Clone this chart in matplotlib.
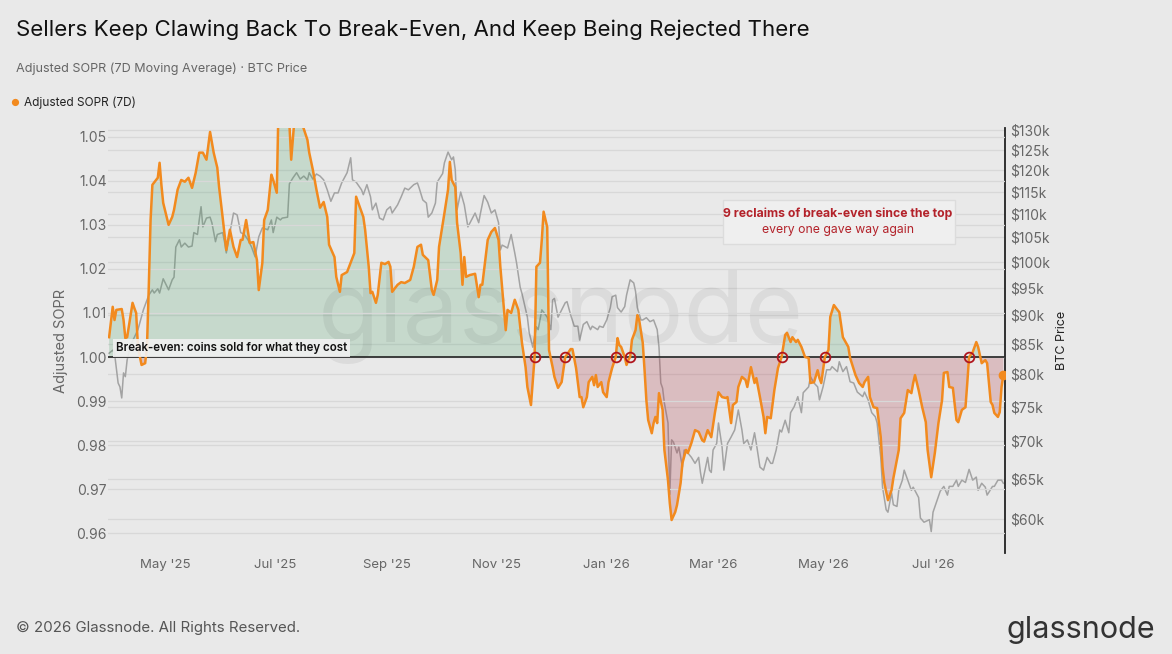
import numpy as np
import pandas as pd
import matplotlib
matplotlib.use("Agg")
import matplotlib.pyplot as plt
import matplotlib.dates as mdates
from matplotlib.ticker import FixedLocator, FuncFormatter, NullLocator
from matplotlib.patches import Rectangle

plt.rcParams['font.family'] = ['Inter', 'DejaVu Sans']

# Adjusted SOPR (7D MA)
sopr_dates = [
    "2025-03-31", "2025-04-02", "2025-04-03", "2025-04-04", "2025-04-07", "2025-04-08", "2025-04-09", "2025-04-10",
    "2025-04-13", "2025-04-14", "2025-04-15", "2025-04-16", "2025-04-18", "2025-04-20", "2025-04-21", "2025-04-22",
    "2025-04-23", "2025-04-24", "2025-04-27", "2025-04-28", "2025-04-29", "2025-04-30", "2025-05-03", "2025-05-05",
    "2025-05-06", "2025-05-08", "2025-05-10", "2025-05-12", "2025-05-14", "2025-05-16", "2025-05-18", "2025-05-20",
    "2025-05-22", "2025-05-24", "2025-05-26", "2025-05-28", "2025-05-30", "2025-05-31", "2025-06-02", "2025-06-04",
    "2025-06-06", "2025-06-08", "2025-06-10", "2025-06-12", "2025-06-13", "2025-06-15", "2025-06-17", "2025-06-19",
    "2025-06-21", "2025-06-22", "2025-06-24", "2025-06-25", "2025-06-27", "2025-06-29", "2025-06-30", "2025-07-02",
    "2025-07-03", "2025-07-05", "2025-07-08", "2025-07-10", "2025-07-12", "2025-07-14", "2025-07-16", "2025-07-19",
    "2025-07-20", "2025-07-22", "2025-07-24", "2025-07-26", "2025-07-28", "2025-07-30", "2025-07-31", "2025-08-03",
    "2025-08-04", "2025-08-06", "2025-08-07", "2025-08-10", "2025-08-13", "2025-08-14", "2025-08-15", "2025-08-17",
    "2025-08-19", "2025-08-20", "2025-08-22", "2025-08-23", "2025-08-24", "2025-08-26", "2025-08-27", "2025-08-29",
    "2025-08-31", "2025-09-02", "2025-09-03", "2025-09-04", "2025-09-07", "2025-09-09", "2025-09-11", "2025-09-14",
    "2025-09-16", "2025-09-18", "2025-09-20", "2025-09-21", "2025-09-24", "2025-09-26", "2025-09-27", "2025-09-29",
    "2025-09-30", "2025-10-03", "2025-10-05", "2025-10-06", "2025-10-07", "2025-10-09", "2025-10-10", "2025-10-12",
    "2025-10-13", "2025-10-14", "2025-10-15", "2025-10-17", "2025-10-20", "2025-10-22", "2025-10-23", "2025-10-24",
    "2025-10-27", "2025-10-29", "2025-10-31", "2025-11-02", "2025-11-03", "2025-11-06", "2025-11-07", "2025-11-09",
    "2025-11-11", "2025-11-13", "2025-11-15", "2025-11-17", "2025-11-18", "2025-11-20", "2025-11-22", "2025-11-23",
    "2025-11-25", "2025-11-26", "2025-11-27", "2025-11-29", "2025-11-30", "2025-12-02", "2025-12-03", "2025-12-05",
    "2025-12-07", "2025-12-09", "2025-12-12", "2025-12-13", "2025-12-15", "2025-12-17", "2025-12-18", "2025-12-19",
    "2025-12-21", "2025-12-22", "2025-12-24", "2025-12-25", "2025-12-26", "2025-12-27", "2025-12-29", "2025-12-30",
    "2026-01-01", "2026-01-02", "2026-01-04", "2026-01-06", "2026-01-07", "2026-01-08", "2026-01-09", "2026-01-11",
    "2026-01-12", "2026-01-13", "2026-01-14", "2026-01-15", "2026-01-17", "2026-01-18", "2026-01-19", "2026-01-21",
    "2026-01-22", "2026-01-23", "2026-01-24", "2026-01-26", "2026-01-27", "2026-01-28", "2026-01-29", "2026-01-30",
    "2026-02-01", "2026-02-02", "2026-02-04", "2026-02-05", "2026-02-06", "2026-02-08", "2026-02-09", "2026-02-11",
    "2026-02-12", "2026-02-14", "2026-02-15", "2026-02-17", "2026-02-19", "2026-02-21", "2026-02-23", "2026-02-24",
    "2026-02-26", "2026-02-28", "2026-03-02", "2026-03-04", "2026-03-06", "2026-03-08", "2026-03-09", "2026-03-11",
    "2026-03-12", "2026-03-14", "2026-03-15", "2026-03-17", "2026-03-19", "2026-03-20", "2026-03-22", "2026-03-24",
    "2026-03-25", "2026-03-27", "2026-03-29", "2026-03-30", "2026-03-31", "2026-04-02", "2026-04-04", "2026-04-06",
    "2026-04-08", "2026-04-10", "2026-04-11", "2026-04-13", "2026-04-14", "2026-04-16", "2026-04-17", "2026-04-19",
    "2026-04-21", "2026-04-23", "2026-04-24", "2026-04-26", "2026-04-28", "2026-04-29", "2026-04-30", "2026-05-02",
    "2026-05-04", "2026-05-05", "2026-05-07", "2026-05-09", "2026-05-10", "2026-05-12", "2026-05-15", "2026-05-16",
    "2026-05-19", "2026-05-21", "2026-05-23", "2026-05-24", "2026-05-26", "2026-05-27", "2026-05-29", "2026-05-31",
    "2026-06-02", "2026-06-03", "2026-06-04", "2026-06-06", "2026-06-08", "2026-06-09", "2026-06-12", "2026-06-13",
    "2026-06-15", "2026-06-17", "2026-06-19", "2026-06-20", "2026-06-21", "2026-06-23", "2026-06-25", "2026-06-27",
    "2026-06-28", "2026-06-30", "2026-07-02", "2026-07-04", "2026-07-06", "2026-07-07", "2026-07-09", "2026-07-10",
    "2026-07-12", "2026-07-14", "2026-07-15", "2026-07-17", "2026-07-19", "2026-07-20", "2026-07-21", "2026-07-23",
    "2026-07-25", "2026-07-26", "2026-07-28", "2026-07-30", "2026-07-31", "2026-08-02", "2026-08-03", "2026-08-04",
    "2026-08-06", "2026-08-07", "2026-08-08", "2026-08-09",
]
sopr = [
    1.0045, 1.0114, 1.0084, 1.0107, 1.0109, 1.0084, 1.0043, 1.0045,
    1.0123, 1.0111, 1.0100, 1.0023, 0.9982, 0.9986, 1.0023, 1.0159,
    1.0311, 1.0391, 1.0407, 1.0441, 1.0391, 1.0350, 1.0300, 1.0318,
    1.0334, 1.0380, 1.0402, 1.0398, 1.0407, 1.0384, 1.0418, 1.0464,
    1.0464, 1.0448, 1.0511, 1.0464, 1.0430, 1.0386, 1.0316, 1.0243,
    1.0289, 1.0250, 1.0227, 1.0266, 1.0266, 1.0311, 1.0259, 1.0261,
    1.0220, 1.0152, 1.0214, 1.0311, 1.0334, 1.0414, 1.0402, 1.0373,
    1.0580, 1.0640, 1.0610, 1.0448, 1.0550, 1.0560, 1.0530, 1.0493,
    1.0464, 1.0425, 1.0380, 1.0339, 1.0352, 1.0318, 1.0255, 1.0227,
    1.0182, 1.0148, 1.0186, 1.0193, 1.0225, 1.0236, 1.0364, 1.0341,
    1.0318, 1.0289, 1.0205, 1.0145, 1.0148, 1.0123, 1.0141, 1.0214,
    1.0211, 1.0216, 1.0205, 1.0148, 1.0164, 1.0170, 1.0168, 1.0175,
    1.0205, 1.0250, 1.0255, 1.0232, 1.0220, 1.0152, 1.0141, 1.0175,
    1.0250, 1.0327, 1.0380, 1.0443, 1.0402, 1.0386, 1.0305, 1.0236,
    1.0164, 1.0227, 1.0182, 1.0186, 1.0189, 1.0136, 1.0164, 1.0164,
    1.0266, 1.0284, 1.0293, 1.0266, 1.0205, 1.0061, 1.0107, 1.0100,
    1.0130, 1.0107, 1.0032, 0.9977, 0.9932, 0.9891, 1.0000, 1.0205,
    1.0214, 1.0266, 1.0330, 1.0295, 1.0016, 0.9977, 0.9955, 0.9930,
    0.9943, 1.0000, 1.0018, 1.0018, 0.9975, 0.9909, 0.9909, 0.9886,
    0.9909, 0.9943, 0.9955, 0.9936, 0.9959, 0.9932, 0.9943, 0.9920,
    0.9909, 0.9943, 0.9975, 1.0000, 1.0043, 1.0027, 1.0023, 1.0000,
    0.9982, 0.9993, 1.0000, 1.0039, 1.0061, 1.0095, 1.0084, 1.0032,
    0.9970, 0.9902, 0.9857, 0.9827, 0.9850, 0.9864, 0.9850, 0.9918,
    0.9880, 0.9789, 0.9720, 0.9668, 0.9630, 0.9648, 0.9664, 0.9714,
    0.9759, 0.9789, 0.9782, 0.9805, 0.9834, 0.9830, 0.9811, 0.9808,
    0.9834, 0.9818, 0.9873, 0.9920, 0.9909, 0.9907, 0.9909, 0.9850,
    0.9891, 0.9898, 0.9932, 0.9955, 0.9948, 0.9932, 0.9977, 0.9941,
    0.9952, 0.9909, 0.9864, 0.9827, 0.9864, 0.9861, 0.9925, 0.9975,
    1.0000, 1.0050, 1.0055, 1.0034, 1.0045, 1.0034, 1.0039, 1.0023,
    1.0000, 0.9998, 0.9941, 0.9943, 0.9970, 0.9952, 0.9941, 1.0000,
    1.0016, 1.0091, 1.0118, 1.0107, 1.0102, 1.0045, 1.0023, 0.9998,
    0.9959, 0.9941, 0.9932, 0.9943, 0.9955, 0.9909, 0.9886, 0.9884,
    0.9818, 0.9750, 0.9714, 0.9675, 0.9698, 0.9725, 0.9789, 0.9861,
    0.9873, 0.9925, 0.9918, 0.9941, 0.9959, 0.9925, 0.9886, 0.9852,
    0.9789, 0.9727, 0.9782, 0.9850, 0.9902, 0.9964, 0.9966, 0.9932,
    0.9930, 0.9857, 0.9852, 0.9880, 0.9886, 0.9941, 1.0000, 1.0011,
    1.0034, 1.0023, 0.9986, 0.9993, 0.9986, 0.9898, 0.9891, 0.9873,
    0.9864, 0.9875, 0.9932, 0.9959,
]

# BTC price in $k
price_dates = [
    "2025-03-31", "2025-04-02", "2025-04-03", "2025-04-05", "2025-04-06", "2025-04-07", "2025-04-08", "2025-04-09",
    "2025-04-10", "2025-04-12", "2025-04-16", "2025-04-19", "2025-04-22", "2025-04-24", "2025-04-25", "2025-04-27",
    "2025-04-28", "2025-04-30", "2025-05-03", "2025-05-05", "2025-05-06", "2025-05-07", "2025-05-09", "2025-05-10",
    "2025-05-12", "2025-05-14", "2025-05-16", "2025-05-17", "2025-05-19", "2025-05-20", "2025-05-21", "2025-05-22",
    "2025-05-24", "2025-05-26", "2025-05-27", "2025-05-29", "2025-05-30", "2025-06-02", "2025-06-03", "2025-06-04",
    "2025-06-06", "2025-06-08", "2025-06-10", "2025-06-12", "2025-06-14", "2025-06-16", "2025-06-18", "2025-06-20",
    "2025-06-22", "2025-06-24", "2025-06-27", "2025-06-29", "2025-06-30", "2025-07-02", "2025-07-04", "2025-07-05",
    "2025-07-08", "2025-07-09", "2025-07-11", "2025-07-13", "2025-07-15", "2025-07-17", "2025-07-19", "2025-07-20",
    "2025-07-22", "2025-07-24", "2025-07-26", "2025-07-28", "2025-07-30", "2025-08-01", "2025-08-03", "2025-08-05",
    "2025-08-07", "2025-08-09", "2025-08-10", "2025-08-12", "2025-08-13", "2025-08-15", "2025-08-18", "2025-08-19",
    "2025-08-21", "2025-08-23", "2025-08-24", "2025-08-26", "2025-08-28", "2025-08-30", "2025-09-01", "2025-09-03",
    "2025-09-04", "2025-09-07", "2025-09-09", "2025-09-11", "2025-09-13", "2025-09-16", "2025-09-18", "2025-09-19",
    "2025-09-21", "2025-09-23", "2025-09-24", "2025-09-26", "2025-09-28", "2025-09-29", "2025-10-02", "2025-10-03",
    "2025-10-05", "2025-10-07", "2025-10-08", "2025-10-09", "2025-10-10", "2025-10-12", "2025-10-14", "2025-10-16",
    "2025-10-18", "2025-10-20", "2025-10-22", "2025-10-23", "2025-10-25", "2025-10-27", "2025-10-29", "2025-10-31",
    "2025-11-02", "2025-11-03", "2025-11-04", "2025-11-07", "2025-11-09", "2025-11-11", "2025-11-12", "2025-11-14",
    "2025-11-15", "2025-11-18", "2025-11-19", "2025-11-21", "2025-11-23", "2025-11-24", "2025-11-26", "2025-11-27",
    "2025-11-29", "2025-12-01", "2025-12-02", "2025-12-03", "2025-12-05", "2025-12-07", "2025-12-09", "2025-12-10",
    "2025-12-12", "2025-12-14", "2025-12-16", "2025-12-17", "2025-12-19", "2025-12-21", "2025-12-23", "2025-12-24",
    "2025-12-27", "2025-12-28", "2025-12-30", "2026-01-01", "2026-01-03", "2026-01-04", "2026-01-06", "2026-01-07",
    "2026-01-09", "2026-01-11", "2026-01-12", "2026-01-14", "2026-01-16", "2026-01-17", "2026-01-18", "2026-01-20",
    "2026-01-21", "2026-01-23", "2026-01-25", "2026-01-27", "2026-01-29", "2026-01-30", "2026-01-31", "2026-02-01",
    "2026-02-02", "2026-02-04", "2026-02-05", "2026-02-06", "2026-02-07", "2026-02-09", "2026-02-10", "2026-02-12",
    "2026-02-13", "2026-02-15", "2026-02-17", "2026-02-19", "2026-02-21", "2026-02-22", "2026-02-23", "2026-02-26",
    "2026-02-27", "2026-02-28", "2026-03-01", "2026-03-03", "2026-03-04", "2026-03-06", "2026-03-07", "2026-03-09",
    "2026-03-11", "2026-03-13", "2026-03-15", "2026-03-17", "2026-03-18", "2026-03-20", "2026-03-22", "2026-03-24",
    "2026-03-25", "2026-03-27", "2026-03-29", "2026-03-31", "2026-04-02", "2026-04-03", "2026-04-05", "2026-04-07",
    "2026-04-08", "2026-04-10", "2026-04-12", "2026-04-13", "2026-04-15", "2026-04-17", "2026-04-19", "2026-04-20",
    "2026-04-23", "2026-04-24", "2026-04-26", "2026-04-28", "2026-04-29", "2026-05-01", "2026-05-03", "2026-05-05",
    "2026-05-06", "2026-05-09", "2026-05-10", "2026-05-12", "2026-05-14", "2026-05-16", "2026-05-18", "2026-05-20",
    "2026-05-23", "2026-05-24", "2026-05-26", "2026-05-28", "2026-05-30", "2026-05-31", "2026-06-02", "2026-06-03",
    "2026-06-05", "2026-06-06", "2026-06-08", "2026-06-09", "2026-06-11", "2026-06-12", "2026-06-14", "2026-06-15",
    "2026-06-17", "2026-06-19", "2026-06-20", "2026-06-23", "2026-06-24", "2026-06-26", "2026-06-29", "2026-06-30",
    "2026-07-01", "2026-07-03", "2026-07-05", "2026-07-07", "2026-07-09", "2026-07-10", "2026-07-12", "2026-07-14",
    "2026-07-15", "2026-07-17", "2026-07-19", "2026-07-21", "2026-07-23", "2026-07-25", "2026-07-26", "2026-07-28",
    "2026-07-30", "2026-07-31", "2026-08-03", "2026-08-04", "2026-08-06", "2026-08-08", "2026-08-09",
]
price_k = [
    83.4, 83.9, 83.4, 78.6, 78.0, 76.3, 80.2, 79.6,
    82.3, 84.8, 87.4, 90.9, 93.6, 94.6, 94.0, 94.8,
    94.0, 96.7, 94.6, 96.5, 97.0, 103.0, 104.5, 103.0,
    103.8, 103.0, 103.2, 106.0, 105.6, 108.7, 111.6, 107.2,
    109.1, 109.3, 108.1, 104.1, 105.6, 106.0, 104.1, 101.8,
    106.0, 110.2, 109.8, 106.0, 105.6, 104.5, 103.0, 101.0,
    105.1, 107.0, 106.6, 108.7, 106.0, 109.3, 108.7, 109.1,
    109.3, 116.8, 118.2, 119.4, 117.9, 118.6, 117.7, 119.4,
    117.9, 119.1, 118.6, 117.7, 115.4, 112.8, 114.7, 114.7,
    117.0, 118.6, 119.4, 123.0, 117.7, 117.2, 115.4, 114.3,
    116.6, 113.8, 110.9, 112.4, 109.1, 108.7, 110.9, 111.6,
    110.2, 112.0, 113.8, 115.8, 115.4, 116.6, 117.0, 115.8,
    113.1, 112.4, 109.3, 110.2, 112.4, 117.2, 119.2, 121.8,
    124.4, 122.5, 123.2, 120.1, 110.9, 114.9, 112.0, 107.2,
    108.7, 110.2, 108.1, 110.2, 114.1, 112.6, 110.2, 110.9,
    108.1, 102.4, 103.4, 102.8, 105.6, 101.8, 99.8, 95.1,
    93.9, 89.6, 86.9, 84.4, 87.9, 87.4, 90.9, 90.5,
    89.6, 87.4, 92.7, 93.0, 89.6, 90.9, 92.2, 92.4,
    90.0, 88.0, 88.0, 85.6, 88.3, 88.8, 87.4, 88.0,
    87.4, 88.0, 87.8, 89.1, 91.3, 93.3, 93.6, 91.3,
    90.5, 91.5, 93.6, 96.5, 95.9, 94.3, 91.3, 89.1,
    89.1, 89.5, 88.8, 89.1, 87.4, 84.4, 78.6, 77.8,
    75.5, 72.6, 63.0, 70.2, 69.9, 68.4, 69.2, 66.5,
    68.8, 68.4, 67.8, 67.0, 67.8, 65.8, 64.4, 67.8,
    66.1, 65.8, 68.8, 69.7, 72.6, 69.2, 66.1, 69.7,
    70.6, 71.6, 74.5, 71.6, 69.7, 70.2, 68.8, 71.2,
    69.7, 66.5, 66.1, 67.8, 67.0, 67.0, 68.8, 71.6,
    71.3, 73.0, 71.2, 74.1, 75.0, 76.5, 74.1, 77.1,
    78.0, 79.6, 78.6, 78.0, 76.0, 78.0, 80.7, 80.7,
    81.2, 80.4, 82.0, 80.4, 81.2, 78.8, 78.6, 77.2,
    76.5, 77.2, 76.0, 74.1, 73.5, 72.6, 67.8, 63.9,
    61.1, 60.8, 63.2, 61.7, 61.5, 63.5, 64.8, 66.1,
    64.8, 63.5, 63.9, 62.6, 60.1, 59.6, 59.9, 58.5,
    60.8, 62.1, 63.4, 64.0, 62.9, 64.0, 64.0, 64.8,
    64.0, 64.8, 64.5, 66.2, 64.8, 65.2, 63.5, 64.4,
    63.9, 62.9, 64.0, 64.0, 64.8, 64.8, 64.4,
]

# upward crosses of 1.0 after the October top
reclaim_dates = ["2025-11-22", "2025-12-09", "2026-01-06", "2026-01-14",
                 "2026-04-08", "2026-05-02", "2026-07-21"]

price_ticks_k = [60, 65, 70, 75, 80, 85, 90, 95, 100, 105, 110, 115, 120, 125, 130]
sopr_ticks = [0.96, 0.97, 0.98, 0.99, 1.00, 1.01, 1.02, 1.03, 1.04, 1.05]

BG = "#e9e9e9"
ORANGE = "#f28a1e"
GRID = "#d8d8d8"

d_sopr = pd.to_datetime(sopr_dates)
v_sopr = np.array(sopr)
d_price = pd.to_datetime(price_dates)
v_price = np.array(price_k) * 1000

fig = plt.figure(figsize=(11.72, 6.54), dpi=100, facecolor=BG)
ax2 = fig.add_axes([0.0922, 0.1544, 0.7653, 0.6499])
ax = ax2.twinx()
# swap sides: SOPR axis on the left and drawn on top
ax.yaxis.tick_left()
ax.yaxis.set_label_position("left")
ax2.yaxis.tick_right()
ax2.yaxis.set_label_position("right")
ax2.set_facecolor(BG)
ax.patch.set_visible(False)

# price
ax2.plot(d_price, v_price, color="#a3a3a3", lw=1.1, zorder=2)
ax2.set_yscale("log")
ax2.set_ylim(56060, 130500)
ax2.yaxis.set_major_locator(FixedLocator([p * 1000 for p in price_ticks_k]))
ax2.yaxis.set_major_formatter(FuncFormatter(lambda v, p: "$%dk" % round(v / 1000)))
ax2.yaxis.set_minor_locator(NullLocator())
ax2.grid(axis="y", color=GRID, lw=0.9)
ax2.set_axisbelow(True)
ax2.set_ylabel("BTC Price", fontsize=9, color="#222222", labelpad=4)
for s in ["left", "top", "bottom"]:
    ax2.spines[s].set_visible(False)
ax2.spines["right"].set_color("#222222")
ax2.spines["right"].set_linewidth(1.3)

# sopr
ax.fill_between(d_sopr, 1.0, v_sopr, where=v_sopr >= 1.0, interpolate=True,
                color="#3a9a5b", alpha=0.2, lw=0, zorder=1)
ax.fill_between(d_sopr, 1.0, v_sopr, where=v_sopr <= 1.0, interpolate=True,
                color="#b03a48", alpha=0.25, lw=0, zorder=1)
ax.text(0.505, 0.555, "glassnode", transform=ax.transAxes, fontsize=72,
        color="#000000", alpha=0.06, ha="center", va="center", zorder=1.5)
ax.axhline(1.0, color="#222222", lw=1.2, zorder=3)
ax.plot(d_sopr, v_sopr, color=ORANGE, lw=1.8, zorder=4, solid_joinstyle="round")
ax.plot(pd.to_datetime(reclaim_dates), [1.0] * len(reclaim_dates), "o", ms=7,
        mfc="none", mec="#b0161e", mew=1.3, zorder=5)
ax.plot(d_sopr[-1:], v_sopr[-1:], "o", ms=6, color=ORANGE, zorder=6)

ax.set_ylim(0.9555, 1.052)
ax.yaxis.set_major_locator(FixedLocator(sopr_ticks))
ax.yaxis.set_major_formatter(FuncFormatter(lambda v, p: "%.2f" % v))
ax.grid(axis="y", color=GRID, lw=0.9)
ax.set_ylabel("Adjusted SOPR", fontsize=10.5, color="#666666", labelpad=6)
for s in ax.spines.values():
    s.set_visible(False)

ax2.set_xlim(pd.Timestamp("2025-03-30 10:00"), pd.Timestamp("2026-08-09 22:00"))
ax2.xaxis.set_major_locator(mdates.MonthLocator(bymonth=[1, 3, 5, 7, 9, 11]))
ax2.xaxis.set_major_formatter(mdates.DateFormatter("%b '%y"))

ax.text(pd.Timestamp("2025-04-04"), 1.0021, "Break-even: coins sold for what they cost",
        fontsize=8.3, fontweight="semibold", color="#111111", va="center", ha="left", zorder=6,
        bbox=dict(boxstyle="square,pad=0.25", fc="#f1f1f1", ec="none", alpha=0.9))

# annotation box
ax.add_patch(Rectangle((0.6856, 0.727), 0.2587, 0.1036, transform=ax.transAxes,
                       fc="#efefef", ec="#dcdcdc", lw=1, zorder=6))
ax.text(0.8138, 0.7976, "9 reclaims of break-even since the top", transform=ax.transAxes,
        fontsize=8.8, fontweight="bold", color="#b3222a", ha="center", va="center", zorder=7)
ax.text(0.8138, 0.760, "every one gave way again", transform=ax.transAxes,
        fontsize=8.8, color="#b3222a", ha="center", va="center", zorder=7)

# ticks last so nothing resets them; no tick marks anywhere
ax.tick_params(axis="y", which="both", length=0, width=0, pad=1,
               labelsize=10, labelcolor="#666666")
ax.tick_params(axis="x", which="both", length=0, width=0)
ax2.tick_params(axis="y", which="both", length=0, width=0, pad=4,
                labelsize=10, labelcolor="#666666")
ax2.tick_params(axis="x", which="both", length=0, width=0, pad=4,
                labelsize=9.5, labelcolor="#666666")

# header / footer
fig.text(0.0137, 0.954, "Sellers Keep Clawing Back To Break-Even, And Keep Being Rejected There",
         fontsize=16, color="#111111", va="center")
fig.text(0.0137, 0.8945, "Adjusted SOPR (7D Moving Average) · BTC Price",
         fontsize=9.1, color="#666666", va="center")
fig.text(0.0128, 0.8425, "●", fontsize=7, color=ORANGE, va="center", ha="center")
fig.text(0.0205, 0.8425, "Adjusted SOPR (7D)", fontsize=8.5, color="#222222", va="center")
fig.text(0.0137, 0.0398, "© 2026 Glassnode. All Rights Reserved.",
         fontsize=10.8, color="#555555", va="center")
fig.text(0.9855, 0.0367, "glassnode", fontsize=22, color="#333333", va="center", ha="right")

# make sure no tick lines survive on either axis
fig.canvas.draw()
for a in (ax, ax2):
    for t in a.yaxis.get_major_ticks() + a.yaxis.get_minor_ticks():
        t.tick1line.set_visible(False)
        t.tick2line.set_visible(False)

fig.savefig("out.png", dpi=100, facecolor=BG)
